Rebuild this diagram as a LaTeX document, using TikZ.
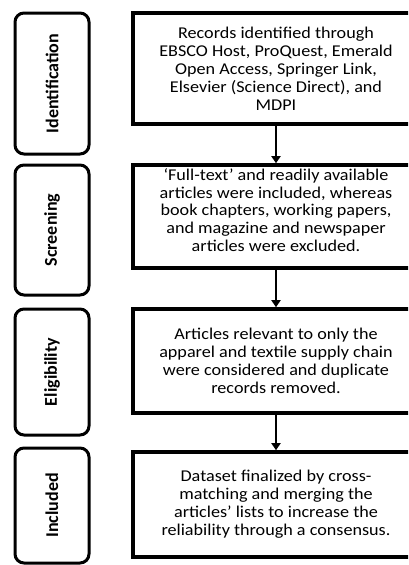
\documentclass[tikz,border=0pt]{standalone}
\usepackage{fontspec}
\setmainfont{Carlito}
\newfontfamily\boxfont[FakeStretch=1.1]{Carlito}
\usetikzlibrary{arrows.meta}
\tikzset{
  rbox/.style={draw, line width=3.6pt, minimum width=286pt, align=center, inner sep=0pt,
    font=\boxfont\fontsize{16.5}{17.9}\selectfont},
  lbox/.style={draw, line width=3pt, rounded corners=9pt, rotate=90, minimum height=74pt, inner sep=0pt,
    font=\fontsize{18}{20}\selectfont\bfseries},
  arr/.style={line width=2pt, -{Triangle[length=7pt,width=9pt]}}
}
\begin{document}
\begin{tikzpicture}[x=1pt,y=-1pt]
\useasboundingbox (0,0) rectangle (408,565);
\clip (0,0) rectangle (408,565);
% left stage boxes
\node[lbox, minimum width=141pt] (l1) at (52,83.5) {Identification};
\node[lbox, minimum width=130pt] (l2) at (52,230) {Screening};
\node[lbox, minimum width=126pt] (l3) at (52,372) {Eligibility};
\node[lbox, minimum width=115pt] (l4) at (52,505.5) {Included};
% right process boxes
\node[rbox, minimum height=111pt] (b1) at (276,68.5) {Records identified through\\EBSCO Host, ProQuest, Emerald\\Open Access, Springer Link,\\Elsevier (Science Direct), and\\MDPI};
\node[rbox, minimum height=103pt] (b2) at (276,216.5) {‘Full-text’ and readily available\\articles were included, whereas\\book chapters, working papers,\\and magazine and newspaper\\articles were excluded.\\[-4.9pt]};
\node[rbox, minimum height=104pt] (b3) at (276,361) {Articles relevant to only the\\apparel and textile supply chain\\were considered and duplicate\\records removed.};
\node[rbox, minimum height=105pt] (b4) at (276,504.5) {\\[-6.9pt]Dataset finalized by cross-\\matching and merging the\\articles’ lists to increase the\\reliability through a consensus.};
% connectors
\draw[arr] (b1.south) -- (b2.north);
\draw[arr] (b2.south) -- (b3.north);
\draw[arr] (b3.south) -- (b4.north);
\end{tikzpicture}
\end{document}
